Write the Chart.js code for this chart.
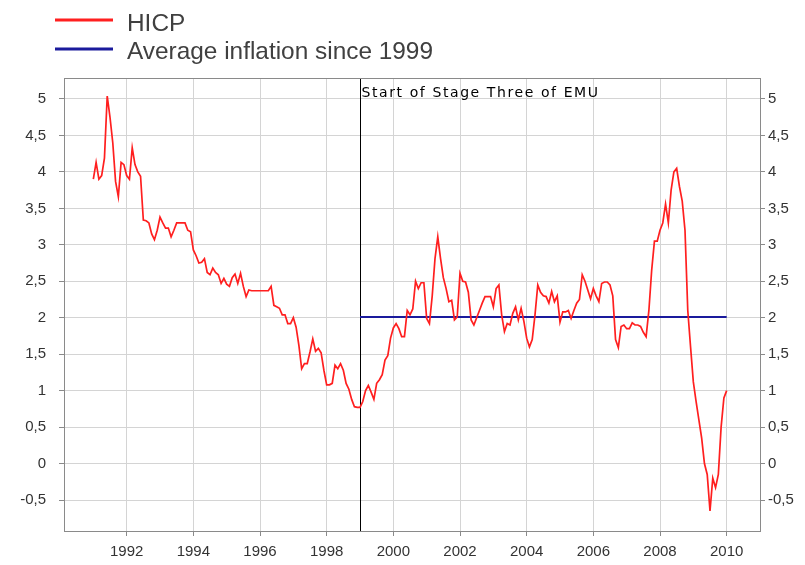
<!DOCTYPE html>
<html><head><meta charset="utf-8">
<script src="https://cdn.jsdelivr.net/npm/chart.js@4/dist/chart.umd.min.js"></script>
<style>html,body{margin:0;padding:0;background:#fff}#wrap{width:805px;height:565px;position:relative}</style>
</head><body><div id="wrap"><canvas id="c" width="805" height="565"></canvas></div>
<script>
// ---- data ----
const startYear = 1991;            // first monthly observation: Jan 1991
const hicp = [
  3.9, 4.13, 3.9, 3.95, 4.19, 5.04, 4.75, 4.4, 3.87, 3.66, 4.13, 4.1,
  3.95, 3.9, 4.33, 4.1, 4.0, 3.94, 3.34, 3.33, 3.3, 3.15, 3.07, 3.2,
  3.38, 3.3, 3.23, 3.23, 3.11, 3.2, 3.3, 3.3, 3.3, 3.3, 3.2, 3.18,
  2.93, 2.85, 2.75, 2.76, 2.81, 2.62, 2.59, 2.68, 2.62, 2.59, 2.47, 2.54,
  2.46, 2.43, 2.55, 2.6, 2.47, 2.61, 2.43, 2.29, 2.38, 2.37, 2.37, 2.37,
  2.37, 2.37, 2.37, 2.37, 2.43, 2.17, 2.15, 2.13, 2.04, 2.04, 1.92, 1.92,
  2.0, 1.87, 1.62, 1.3, 1.37, 1.37, 1.53, 1.71, 1.54, 1.58, 1.52, 1.28,
  1.08, 1.08, 1.1, 1.35, 1.3, 1.37, 1.28, 1.1, 1.02, 0.88, 0.78, 0.77,
  0.77, 0.85, 1.0, 1.07, 0.98, 0.88, 1.1, 1.15, 1.22, 1.42, 1.48, 1.72,
  1.86, 1.92, 1.85, 1.74, 1.74, 2.1, 2.04, 2.12, 2.5, 2.4, 2.48, 2.48,
  1.99, 1.92, 2.3, 2.81, 3.11, 2.81, 2.55, 2.4, 2.22, 2.24, 1.97, 2.01,
  2.61, 2.5, 2.49, 2.35, 1.97, 1.9, 2.0, 2.1, 2.2, 2.29, 2.29, 2.29,
  2.15, 2.4, 2.45, 2.04, 1.81, 1.92, 1.9, 2.06, 2.15, 1.97, 2.13, 1.95,
  1.72, 1.6, 1.7, 2.04, 2.45, 2.35, 2.3, 2.29, 2.2, 2.36, 2.22, 2.3,
  1.94, 2.08, 2.08, 2.1, 1.99, 2.1, 2.2, 2.25, 2.59, 2.5, 2.38, 2.26,
  2.4, 2.3, 2.22, 2.47, 2.49, 2.49, 2.45, 2.3, 1.7, 1.59, 1.88, 1.9,
  1.85, 1.85, 1.93, 1.9, 1.9, 1.88, 1.8, 1.74, 2.1, 2.65, 3.05, 3.05,
  3.2, 3.3, 3.56, 3.3, 3.75, 4.0, 4.05, 3.8, 3.6, 3.2, 2.1, 1.6,
  1.12, 0.85, 0.6, 0.35, 0.0, -0.15, -0.65, -0.2, -0.33, -0.15, 0.5, 0.9,
  1.0
];
const avgInflation = 2.01;
const avgFrom = 1999;
const avgTo = 2010;
const seriesNames = ['HICP', 'Average inflation since 1999'];
const stageThreeYear = 1999;
const stageThreeLabel = 'Start of Stage Three of EMU';
const xTicks = [1992, 1994, 1996, 1998, 2000, 2002, 2004, 2006, 2008, 2010];
const yTicks = [-0.5, 0, 0.5, 1, 1.5, 2, 2.5, 3, 3.5, 4, 4.5, 5];
const xRange = [1990.12, 2011.0];
const yRange = [-0.925, 5.288];

// ---- build ----
const hicpPoints = hicp.map((v, i) => ({x: startYear + i / 12, y: v}));
const avgPoints = [{x: avgFrom, y: avgInflation}, {x: avgTo, y: avgInflation}];
const fmt = v => String(v).replace('.', ',');
const FONT = '"Liberation Sans", Arial, sans-serif';
const RED = '#ff1f1f', BLUE = '#1a1a9c';

const overlay = {
  id: 'overlay',
  beforeDatasetsDraw(chart) {
    const {ctx, chartArea: a, scales: {x}} = chart;
    const px = Math.round(x.getPixelForValue(stageThreeYear)) + 0.5;
    ctx.save();
    ctx.strokeStyle = '#000'; ctx.lineWidth = 1;
    ctx.beginPath(); ctx.moveTo(px, a.top); ctx.lineTo(px, a.bottom); ctx.stroke();
    ctx.font = '14px "DejaVu Sans"';
    const w = ctx.measureText(stageThreeLabel).width;
    const target = 238;
    ctx.letterSpacing = Math.max(0, (target - w) / stageThreeLabel.length).toFixed(2) + 'px';
    ctx.fillStyle = '#000'; ctx.textBaseline = 'alphabetic'; ctx.textAlign = 'left';
    ctx.fillText(stageThreeLabel, px + 1, a.top + 19);
    ctx.restore();
  },
  afterDraw(chart) {
    const {ctx, chartArea: a} = chart;
    ctx.save();
    ctx.strokeStyle = '#8a8a8a'; ctx.lineWidth = 1;
    ctx.strokeRect(Math.round(a.left) + 0.5, Math.round(a.top) + 0.5,
                   Math.round(a.right - a.left), Math.round(a.bottom - a.top));
    // legend
    const rows = [{line: 20, base: 31}, {line: 49, base: 59}];
    chart.data.datasets.forEach((ds, i) => {
      const r = rows[i];
      ctx.strokeStyle = ds.borderColor; ctx.lineWidth = 3;
      ctx.beginPath(); ctx.moveTo(55, r.line); ctx.lineTo(113, r.line); ctx.stroke();
      ctx.fillStyle = '#404040'; ctx.font = '24.4px ' + FONT;
      ctx.textBaseline = 'alphabetic'; ctx.textAlign = 'left';
      ctx.fillText(ds.label, 127, r.base);
    });
    ctx.restore();
  }
};

const setTicks = vals => scale => { scale.ticks = vals.map(v => ({value: v})); };
const tickFont = {family: FONT, size: 15};

new Chart(document.getElementById('c'), {
  type: 'line',
  data: {
    datasets: [
      {label: seriesNames[0], data: hicpPoints, borderColor: RED, backgroundColor: RED,
       borderWidth: 1.7, pointRadius: 0, tension: 0, fill: false, yAxisID: 'y'},
      {label: seriesNames[1], data: avgPoints, borderColor: BLUE, backgroundColor: BLUE,
       borderWidth: 2, pointRadius: 0, tension: 0, fill: false, yAxisID: 'y'}
    ]
  },
  options: {
    responsive: false, animation: false, devicePixelRatio: 1,
    layout: {padding: {top: 78, left: 0, right: 0, bottom: 0}},
    plugins: {legend: {display: false}, tooltip: {enabled: false}},
    scales: {
      x: {
        type: 'linear', min: xRange[0], max: xRange[1],
        afterBuildTicks: setTicks(xTicks),
        afterFit: s => { s.height = 34; },
        grid: {color: '#d4d4d4', tickLength: 5, tickColor: '#8a8a8a'},
        border: {display: false},
        ticks: {font: tickFont, color: '#333', padding: 7, maxRotation: 0, autoSkip: false,
                callback: v => String(v)}
      },
      y: {
        type: 'linear', position: 'left', min: yRange[0], max: yRange[1],
        afterBuildTicks: setTicks(yTicks),
        afterFit: s => { s.width = 64; },
        grid: {color: '#d4d4d4', tickLength: 5, tickColor: '#8a8a8a'},
        border: {display: false},
        ticks: {font: tickFont, color: '#333', padding: 13, callback: v => fmt(v)}
      },
      y2: {
        type: 'linear', position: 'right', min: yRange[0], max: yRange[1],
        afterBuildTicks: setTicks(yTicks),
        afterFit: s => { s.width = 45; },
        grid: {drawOnChartArea: false, tickLength: 5, color: '#8a8a8a'},
        border: {display: false},
        ticks: {font: tickFont, color: '#333', padding: 3, callback: v => fmt(v)}
      }
    }
  },
  plugins: [overlay]
});
</script></body></html>
